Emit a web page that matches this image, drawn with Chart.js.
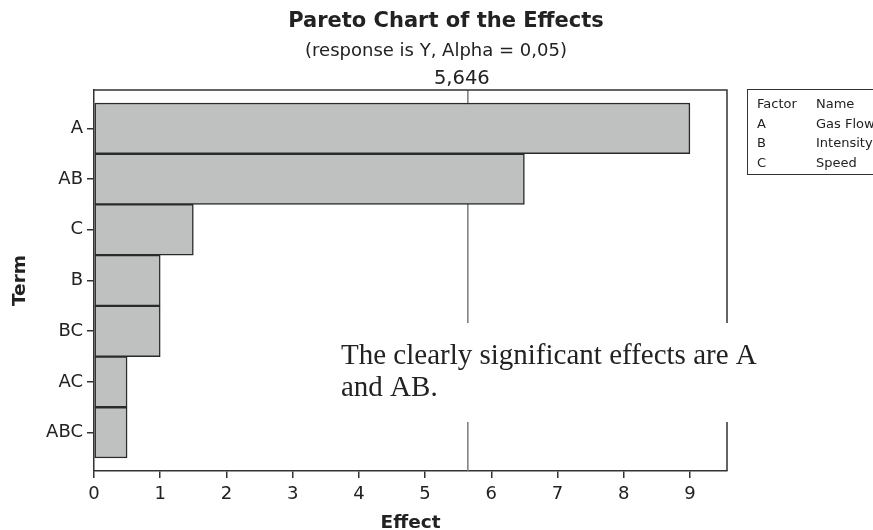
<!DOCTYPE html>
<html>
<head>
<meta charset="utf-8">
<script src="https://cdn.jsdelivr.net/npm/chart.js@4.4.0/dist/chart.umd.min.js"></script>
<style>
  body { margin: 0; background: #fff; }
</style>
</head>
<body>
<canvas id="pareto" width="873" height="530"></canvas>
<script>
// values
const terms = ['A', 'AB', 'C', 'B', 'BC', 'AC', 'ABC'];
const effects = [9.0, 6.5, 1.5, 1.0, 1.0, 0.5, 0.5];
const effectTicks = [0, 1, 2, 3, 4, 5, 6, 7, 8, 9];
const threshold = 5.646;
const thresholdLabel = '5,646';
const factorCodes = ['A', 'B', 'C'];
const factorNames = ['Gas Flow', 'Intensity', 'Speed'];

const FONT = '"DejaVu Sans", Verdana, sans-serif';

// titles, reference line, frame, legend table and the note
const extras = {
    id: 'extras',
    beforeDatasetsDraw(chart) {
        const { ctx, chartArea: a, scales } = chart;
        const xr = scales.x.getPixelForValue(threshold);
        ctx.save();
        ctx.strokeStyle = '#7a7a7a';
        ctx.lineWidth = 1.5;
        ctx.beginPath();
        ctx.moveTo(xr, a.top);
        ctx.lineTo(xr, a.bottom);
        ctx.stroke();
        ctx.restore();
    },
    afterDraw(chart) {
        const { ctx, chartArea: a, scales } = chart;
        ctx.save();
        // frame top + right
        ctx.strokeStyle = '#333';
        ctx.lineWidth = 1.5;
        ctx.beginPath();
        ctx.moveTo(a.left, a.top);
        ctx.lineTo(a.right, a.top);
        ctx.lineTo(a.right, a.bottom);
        ctx.stroke();

        ctx.fillStyle = '#222';
        ctx.textAlign = 'center';
        ctx.textBaseline = 'middle';
        ctx.font = 'bold 21px ' + FONT;
        ctx.fillText('Pareto Chart of the Effects', 446, 22);
        ctx.font = '18px ' + FONT;
        ctx.fillText('(response is Y, Alpha = 0,05)', 436, 51);
        ctx.font = '19.5px ' + FONT;
        ctx.fillText(thresholdLabel, scales.x.getPixelForValue(threshold) - 6, 79);

        // legend table
        ctx.strokeStyle = '#333';
        ctx.lineWidth = 1;
        ctx.strokeRect(747.5, 89.5, 140, 85);
        ctx.font = '13px ' + FONT;
        ctx.textAlign = 'left';
        ctx.fillText('Factor', 757, 105);
        ctx.fillText('Name', 816, 105);
        factorCodes.forEach((c, i) => {
            ctx.fillText(c, 757, 124.5 + i * 19.5);
            ctx.fillText(factorNames[i], 816, 124.5 + i * 19.5);
        });

        // note on white
        ctx.fillStyle = '#fff';
        ctx.fillRect(335, 323, 460, 99);
        ctx.fillStyle = '#222';
        ctx.font = '29px "Liberation Serif", "Times New Roman", serif';
        ctx.fillText('The clearly significant effects are A', 341, 356);
        ctx.fillText('and AB.', 341, 388);
        ctx.restore();
    }
};

new Chart(document.getElementById('pareto').getContext('2d'), {
    type: 'bar',
    data: {
        datasets: [{
            data: effects.map((v, i) => ({ x: v, y: i })),
            backgroundColor: '#bfc1c1',
            borderColor: '#2a2a2a',
            borderWidth: 1.5,
            borderSkipped: false,
            barPercentage: 1,
            categoryPercentage: 1
        }]
    },
    options: {
        indexAxis: 'y',
        responsive: false,
        animation: false,
        layout: { padding: { left: 0, top: 90, right: 146, bottom: 0 } },
        plugins: {
            legend: { display: false },
            tooltip: { enabled: false }
        },
        scales: {
            x: {
                type: 'linear',
                min: 0,
                max: 9.56,
                afterBuildTicks: s => { s.ticks = effectTicks.map(v => ({ value: v })); },
                afterFit: s => { s.height = 59; },
                grid: { drawOnChartArea: false, tickLength: 7, color: '#333', lineWidth: 1.5 },
                border: { color: '#333', width: 1.5 },
                ticks: { color: '#222', font: { family: FONT, size: 18 }, padding: 6 },
                title: { display: true, text: 'Effect', color: '#222', font: { family: FONT, size: 18.5, weight: 'bold' }, padding: { top: 0, bottom: -4 } }
            },
            y: {
                type: 'linear',
                reverse: true,
                offset: false,
                min: -0.757,
                max: terms.length - 1 + 0.757,
                afterBuildTicks: s => { s.ticks = terms.map((t, i) => ({ value: i })); },
                afterFit: s => { s.width = 94; },
                grid: { offset: false, drawOnChartArea: false, tickLength: 7, color: '#333', lineWidth: 1.5 },
                border: { color: '#333', width: 1.5 },
                ticks: {
                    color: '#222',
                    font: { family: FONT, size: 18 },
                    padding: 4,
                    callback: v => terms[v]
                },
                title: { display: true, text: 'Term', color: '#222', font: { family: FONT, size: 18.5, weight: 'bold' }, padding: { top: 9, bottom: 0 } }
            }
        }
    },
    plugins: [extras]
});
</script>
</body>
</html>
